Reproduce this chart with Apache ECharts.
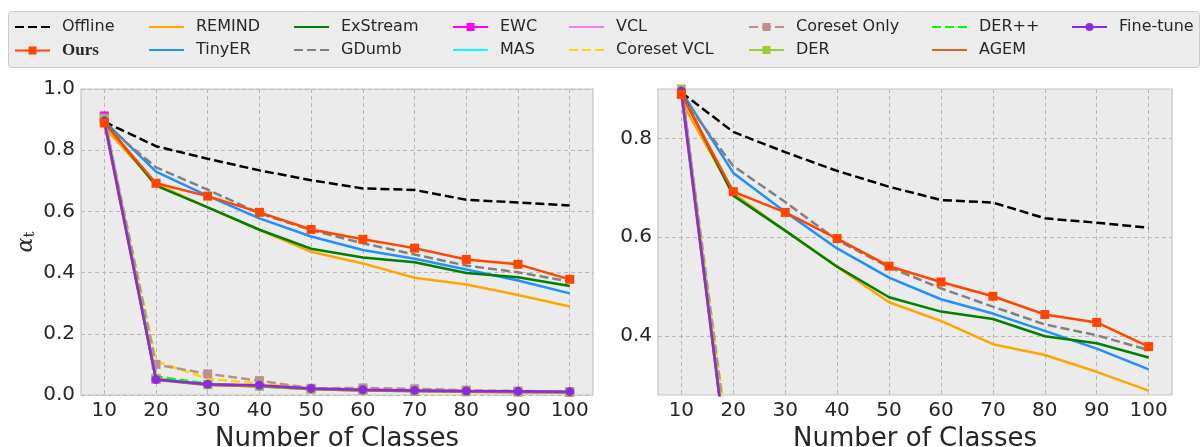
<!DOCTYPE html>
<html>
<head>
<meta charset="utf-8">
<script src="https://cdn.jsdelivr.net/npm/echarts@6/dist/echarts.min.js"></script>
<style>
  html, body {margin: 0; padding: 0; background: #fff;}
  #chart {width: 1203px; height: 447px;}
</style>
</head>
<body>
<div id="chart"></div>
<script>
const classes = [10, 20, 30, 40, 50, 60, 70, 80, 90, 100];

const offline = [0.893, 0.813, 0.772, 0.734, 0.702, 0.675, 0.670, 0.638, 0.629, 0.619];
const ours = [0.889, 0.692, 0.650, 0.597, 0.541, 0.509, 0.480, 0.443, 0.427, 0.378];
const remind = [0.875, 0.689, 0.613, 0.540, 0.468, 0.430, 0.383, 0.361, 0.327, 0.289];
const tinyer = [0.895, 0.730, 0.651, 0.577, 0.518, 0.474, 0.445, 0.410, 0.374, 0.332];
const exstream = [0.893, 0.684, 0.613, 0.540, 0.478, 0.449, 0.434, 0.399, 0.385, 0.356];
const gdumb = [0.885, 0.744, 0.671, 0.594, 0.539, 0.496, 0.459, 0.423, 0.401, 0.371];
const ewc = [0.912, 0.052, 0.034, 0.030, 0.020, 0.016, 0.013, 0.011, 0.010, 0.009];
const mas = [0.905, 0.050, 0.033, 0.029, 0.019, 0.015, 0.012, 0.011, 0.010, 0.009];
const vcl = [0.910, 0.053, 0.034, 0.030, 0.020, 0.016, 0.013, 0.012, 0.010, 0.009];
const coresetVcl = [0.900, 0.111, 0.053, 0.038, 0.023, 0.019, 0.017, 0.015, 0.013, 0.012];
const coresetOnly = [0.905, 0.100, 0.069, 0.047, 0.022, 0.023, 0.020, 0.016, 0.013, 0.011];
const der = [0.900, 0.055, 0.034, 0.028, 0.019, 0.015, 0.013, 0.011, 0.010, 0.009];
const derpp = [0.900, 0.060, 0.037, 0.028, 0.020, 0.016, 0.014, 0.012, 0.011, 0.010];
const agem = [0.890, 0.050, 0.033, 0.029, 0.020, 0.015, 0.013, 0.011, 0.010, 0.009];
const finetune = [0.896, 0.051, 0.035, 0.032, 0.021, 0.017, 0.015, 0.013, 0.012, 0.011];

const leftTicks = [0, 0.2, 0.4, 0.6, 0.8, 1.0];
const rightTicks = [0.4, 0.6, 0.8];

// name, values, color, dashed, marker
const methods = [
  ["Offline", offline, "#000000", true, "none"],
  ["Ours", ours, "#FF4500", false, "rect"],
  ["REMIND", remind, "#FFA500", false, "none"],
  ["TinyER", tinyer, "#1E90FF", false, "none"],
  ["ExStream", exstream, "#008000", false, "none"],
  ["GDumb", gdumb, "#808080", true, "none"],
  ["EWC", ewc, "#FF00FF", false, "rect"],
  ["MAS", mas, "#00FFFF", false, "none"],
  ["VCL", vcl, "#EE82EE", false, "none"],
  ["Coreset VCL", coresetVcl, "#FFD700", true, "none"],
  ["Coreset Only", coresetOnly, "#BC8F8F", true, "rect"],
  ["DER", der, "#9ACD32", false, "rect"],
  ["DER++", derpp, "#00FF00", true, "none"],
  ["AGEM", agem, "#D2691E", false, "none"],
  ["Fine-tune", finetune, "#8A2BE2", false, "circle"],
];

const textColor = "#262626";
const font = "DejaVu Sans";

const chart = echarts.init(document.getElementById("chart"));

function makeSeries(m, axis) {
  const [name, values, color, dashed, marker] = m;
  return {
    name: name,
    type: "line",
    xAxisIndex: axis,
    yAxisIndex: axis,
    data: classes.map((c, i) => [c, values[i]]),
    symbol: marker,
    symbolSize: 9,
    showSymbol: marker !== "none",
    z: name === "Ours" ? 5 : (name === "Fine-tune" ? 4 : 3),
    animation: false,
    lineStyle: {color: color, width: 2.5, type: dashed ? [9, 4] : "solid"},
    itemStyle: {color: color},
    emphasis: {disabled: true},
  };
}

const series = [];
methods.forEach(m => series.push(makeSeries(m, 0)));
methods.forEach(m => series.push(makeSeries(m, 1)));

const hasMarker = {};
methods.forEach(m => { hasMarker[m[0]] = m[4] !== "none"; });

// one legend per column, like matplotlib ncol=8
const legendCols = [
  [14, ["Offline", "Ours"]],
  [148, ["REMIND", "TinyER"]],
  [293, ["ExStream", "GDumb"]],
  [452, ["EWC", "MAS"]],
  [568, ["VCL", "Coreset VCL"]],
  [748, ["Coreset Only", "DER"]],
  [931, ["DER++", "AGEM"]],
  [1071, ["Fine-tune"]],
];

const legends = legendCols.map(([x, names]) => ({
  orient: "vertical",
  left: x,
  top: 19,
  padding: 0,
  itemWidth: 35,
  itemHeight: 10,
  itemGap: 7,
  data: names.map(n => (hasMarker[n] ? {name: n} : {name: n, itemStyle: {color: "rgba(0,0,0,0)", borderWidth: 0}})),
  selectedMode: false,
  formatter: n => (n === "Ours" ? "{s|Ours}" : n),
  textStyle: {
    color: textColor,
    fontFamily: font,
    fontSize: 16,
    padding: [0, 0, 0, 7],
    rich: {
      s: {fontFamily: "Liberation Serif", fontWeight: "bold", fontSize: 17, color: textColor},
    },
  },
}));

function xAxis(grid) {
  return {
    type: "value",
    gridIndex: grid,
    min: 5.5,
    max: 104.5,
    name: "Number of Classes",
    nameLocation: "middle",
    nameGap: 26,
    nameTextStyle: {color: textColor, fontFamily: font, fontSize: 26},
    axisLine: {show: false},
    axisTick: {show: false, customValues: classes},
    axisLabel: {customValues: classes, color: textColor, fontFamily: font, fontSize: 20, margin: 6},
    splitLine: {show: true, lineStyle: {color: "#b8b8b8", type: [4, 3], width: 1}},
  };
}

function yAxis(grid, min, max, ticks) {
  return {
    type: "value",
    gridIndex: grid,
    min: min,
    max: max,
    axisLine: {show: false},
    axisTick: {show: false, customValues: ticks},
    axisLabel: {
      customValues: ticks,
      color: textColor,
      fontFamily: font,
      fontSize: 20,
      margin: 6,
      formatter: v => v.toFixed(1),
    },
    splitLine: {show: true, lineStyle: {color: "#b8b8b8", type: [4, 3], width: 1}},
  };
}

const yLeft = yAxis(0, 0, 1, leftTicks);
yLeft.name = "{a|α}{t|t}";
yLeft.nameLocation = "middle";
yLeft.nameGap = 43;
yLeft.nameRotate = 90;
yLeft.nameTextStyle = {
  color: textColor,
  rich: {
    a: {fontFamily: "DejaVu Serif", fontStyle: "italic", fontSize: 22, color: textColor},
    t: {fontFamily: "DejaVu Serif", fontSize: 15, color: textColor, padding: [9, 0, 0, 0]},
  },
};

const gridStyle = {show: true, backgroundColor: "#ebebeb", borderColor: "#c4c4c4", borderWidth: 1.2, outerBoundsMode: "none", containLabel: false};

const option = {
  backgroundColor: "#ffffff",
  animation: false,
  legend: legends,
  graphic: [{
    type: "rect",
    left: 8,
    top: 11,
    shape: {width: 1191, height: 56, r: 3},
    style: {fill: "#ececec", stroke: "#cccccc", lineWidth: 1},
    z: -1,
  }],
  grid: [
    Object.assign({left: 81, right: 610, top: 89, bottom: 52}, gridStyle),
    Object.assign({left: 658, right: 31, top: 89, bottom: 52}, gridStyle),
  ],
  xAxis: [xAxis(0), xAxis(1)],
  yAxis: [yLeft, yAxis(1, 0.28, 0.9, rightTicks)],
  series: series,
};

chart.setOption(option);
</script>
</body>
</html>
